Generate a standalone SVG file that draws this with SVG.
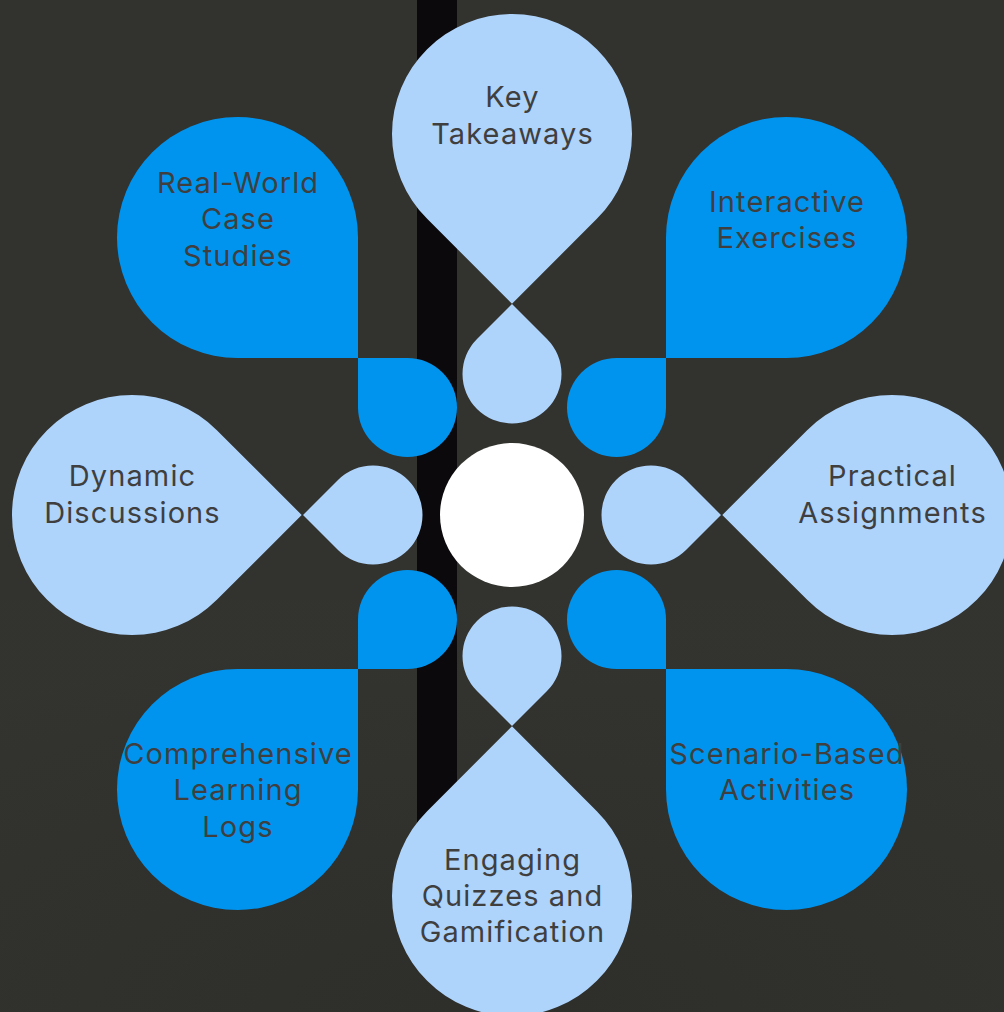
<svg xmlns="http://www.w3.org/2000/svg" width="1004" height="1012" viewBox="0 0 1004 1012">
  <style>
    .light { fill: #AFD4FC; }
    .dark { fill: #0094EE; }
    .label { font-family: Inter, "Open Sans", "Liberation Sans", sans-serif; font-size: 29px; fill: #3F3F3F; text-anchor: middle; letter-spacing: 1.1px; }
  </style>
  <defs>
    <radialGradient id="bgGrad" cx="0.5" cy="1" r="0.9">
      <stop offset="0" stop-color="#2B2B27"/>
      <stop offset="1" stop-color="#33332F"/>
    </radialGradient>
    <path id="bigDrop" d="M0 169.7 L-84.85 84.85 A120 120 0 1 1 84.85 84.85 Z"/>
    <path id="smallDrop" d="M0 -70 L-35 -35 A49.5 49.5 0 1 0 35 -35 Z"/>
    <path id="bigQ" d="M0 0 H-120.5 A120.5 120.5 0 0 1 -241 -120.5 A120.5 120.5 0 0 1 -120.5 -241 A120.5 120.5 0 0 1 0 -120.5 Z"/>
    <path id="smallQ" d="M0 0 H49.5 A49.5 49.5 0 0 1 99 49.5 A49.5 49.5 0 0 1 49.5 99 A49.5 49.5 0 0 1 0 49.5 Z"/>
  </defs>
  <rect x="0" y="0" width="1004" height="1012" fill="#32322E"/>
  <rect x="0" y="600" width="1004" height="412" fill="url(#bgGrad)" opacity="0.6"/>
  <rect x="417" y="0" width="40" height="840" fill="#0B090B"/>

  <g id="node-key-takeaways">
    <use href="#bigDrop" class="light" transform="translate(512,134)"/>
    <use href="#smallDrop" class="light" transform="translate(512,374)"/>
    <text class="label" x="512.5" y="107">Key</text>
    <text class="label" x="512.5" y="144">Takeaways</text>
  </g>
  <g id="node-engaging-quizzes">
    <use href="#bigDrop" class="light" transform="translate(512,896) rotate(180)"/>
    <use href="#smallDrop" class="light" transform="translate(512,656) rotate(180)"/>
    <text class="label" x="512.5" y="870">Engaging</text>
    <text class="label" x="512.5" y="906">Quizzes and</text>
    <text class="label" x="512.5" y="942">Gamification</text>
  </g>
  <g id="node-dynamic-discussions">
    <use href="#bigDrop" class="light" transform="translate(132,515) rotate(-90)"/>
    <use href="#smallDrop" class="light" transform="translate(373,515) rotate(-90)"/>
    <text class="label" x="132.5" y="486">Dynamic</text>
    <text class="label" x="132.5" y="523">Discussions</text>
  </g>
  <g id="node-practical-assignments">
    <use href="#bigDrop" class="light" transform="translate(892,515) rotate(90)"/>
    <use href="#smallDrop" class="light" transform="translate(651,515) rotate(90)"/>
    <text class="label" x="892.5" y="486">Practical</text>
    <text class="label" x="892.5" y="523">Assignments</text>
  </g>
  <g id="node-real-world-case-studies">
    <use href="#bigQ" class="dark" transform="translate(358,358)"/>
    <use href="#smallQ" class="dark" transform="translate(358,358)"/>
    <text class="label" x="238" y="193">Real-World</text>
    <text class="label" x="238" y="229">Case</text>
    <text class="label" x="238" y="266">Studies</text>
  </g>
  <g id="node-interactive-exercises">
    <use href="#bigQ" class="dark" transform="translate(666,358) scale(-1,1)"/>
    <use href="#smallQ" class="dark" transform="translate(666,358) scale(-1,1)"/>
    <text class="label" x="787" y="212">Interactive</text>
    <text class="label" x="787" y="248">Exercises</text>
  </g>
  <g id="node-comprehensive-learning-logs">
    <use href="#bigQ" class="dark" transform="translate(358,669) scale(1,-1)"/>
    <use href="#smallQ" class="dark" transform="translate(358,669) scale(1,-1)"/>
    <text class="label" x="238" y="764">Comprehensive</text>
    <text class="label" x="238" y="800">Learning</text>
    <text class="label" x="238" y="837">Logs</text>
  </g>
  <g id="node-scenario-based-activities">
    <use href="#bigQ" class="dark" transform="translate(666,669) scale(-1,-1)"/>
    <use href="#smallQ" class="dark" transform="translate(666,669) scale(-1,-1)"/>
    <text class="label" x="787" y="764">Scenario-Based</text>
    <text class="label" x="787" y="800">Activities</text>
  </g>
  <g id="node-center">
    <circle cx="512" cy="515" r="72" fill="#FFFFFF"/>
  </g>
  <g id="connectors"/>
</svg>
